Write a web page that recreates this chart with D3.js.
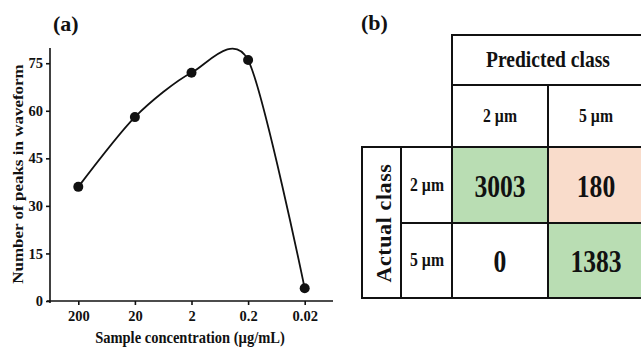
<!DOCTYPE html>
<html>
<head>
<meta charset="utf-8">
<script src="https://cdn.jsdelivr.net/npm/d3@7"></script>
<style>
  body { margin: 0; background: #fff; }
  svg text { font-family: "Times New Roman", "Liberation Serif", "DejaVu Serif", serif; font-weight: bold; fill: #111; }
</style>
</head>
<body>
<svg id="chart" width="641" height="347"></svg>
<script>
// (a) peaks vs concentration
const concLabels = ['200', '20', '2', '0.2', '0.02'];
const peakCounts = [36, 58, 72, 76, 4];
const yTicks = [0, 15, 30, 45, 60, 75];

// (b) confusion matrix
const classLabels = ['2 \u00b5m', '5 \u00b5m'];
const confusion = [
    [3003, 180],
    [0, 1383]
];
const cellColors = [
    ['#b9ddb3', '#f9dccb'],
    ['#ffffff', '#b9ddb3']
];

const serif = '"Times New Roman", "Liberation Serif", "DejaVu Serif", serif';

let svg = d3.select('#chart');

// ---- panel (a) ----
let x = d3.scalePoint().domain(concLabels).range([50, 333]).padding(0.5);
let y = d3.scaleLinear().domain([0, 79.8]).range([301, 48]);

let gA = svg.append('g');

gA.append('g')
    .attr('transform', 'translate(0,301)')
    .call(d3.axisBottom(x).tickSize(4).tickPadding(6))
    .call(g => g.select('.domain').attr('d', 'M47,0H333'));

gA.append('g')
    .attr('transform', 'translate(50,0)')
    .call(d3.axisLeft(y).tickValues(yTicks).tickSize(4).tickPadding(3))
    .call(g => g.select('.domain').attr('d', 'M0,48V303'));

gA.selectAll('.domain, .tick line').attr('stroke', '#111').attr('stroke-width', 1.6);
gA.selectAll('.tick text')
    .attr('font-size', 14.5)
    .attr('font-family', serif)
    .attr('font-weight', 'bold')
    .attr('fill', '#111');

let pts = concLabels.map((c, i) => [x(c), y(peakCounts[i])]);

gA.append('path')
    .attr('d', d3.line().curve(d3.curveCardinal.tension(0.2))(pts))
    .attr('fill', 'none')
    .attr('stroke', '#111')
    .attr('stroke-width', 1.8);

gA.selectAll('circle')
    .data(pts)
    .enter().append('circle')
    .attr('cx', d => d[0])
    .attr('cy', d => d[1])
    .attr('r', 5)
    .attr('fill', '#111');

gA.append('text').attr('x', 53).attr('y', 31).attr('font-size', 22).text('(a)');

gA.append('text')
    .attr('transform', 'translate(23,174) rotate(-90) scale(1,0.88)')
    .attr('text-anchor', 'middle')
    .attr('font-size', 17)
    .text('Number of peaks in waveform');

gA.append('text')
    .attr('transform', 'translate(190,343) scale(0.88,1)')
    .attr('text-anchor', 'middle')
    .attr('font-size', 16.5)
    .text('Sample concentration (\u00b5g/mL)');

// ---- panel (b) ----
let gB = svg.append('g');
gB.append('text').attr('x', 361).attr('y', 30).attr('font-size', 22).text('(b)');

let colX = [452, 548, 644];
let rowY = [147, 223, 298];

// cell fills and counts
confusion.forEach((row, i) => {
    row.forEach((v, j) => {
        gB.append('rect')
            .attr('x', colX[j]).attr('y', rowY[i])
            .attr('width', colX[j + 1] - colX[j])
            .attr('height', rowY[i + 1] - rowY[i])
            .attr('fill', cellColors[i][j]);
        gB.append('text')
            .attr('transform', `translate(${(colX[j] + colX[j + 1]) / 2},${(rowY[i] + rowY[i + 1]) / 2 + 11.5}) scale(0.8,1)`)
            .attr('text-anchor', 'middle')
            .attr('font-size', 32)
            .text(v);
    });
});

// grid lines
let lines = [
    [452, 35, 644, 35], [452, 85, 644, 85], [362, 147, 644, 147],
    [401, 223, 644, 223], [362, 298, 644, 298],
    [452, 35, 452, 298], [548, 85, 548, 298], [362, 147, 362, 298], [401, 147, 401, 298]
];
gB.selectAll('line.grid')
    .data(lines)
    .enter().append('line')
    .attr('class', 'grid')
    .attr('x1', d => d[0]).attr('y1', d => d[1])
    .attr('x2', d => d[2]).attr('y2', d => d[3])
    .attr('stroke', '#111')
    .attr('stroke-width', 2)
    .attr('stroke-linecap', 'square');

gB.append('text')
    .attr('transform', 'translate(548,67) scale(0.85,1)')
    .attr('text-anchor', 'middle')
    .attr('font-size', 23)
    .text('Predicted class');

classLabels.forEach((c, j) => {
    gB.append('text')
        .attr('transform', `translate(${(colX[j] + colX[j + 1]) / 2},122) scale(0.85,1)`)
        .attr('text-anchor', 'middle')
        .attr('font-size', 18.5)
        .text(c);
    gB.append('text')
        .attr('transform', `translate(427,${(rowY[j] + rowY[j + 1]) / 2 + 5.5}) scale(0.85,1)`)
        .attr('text-anchor', 'middle')
        .attr('font-size', 18.5)
        .text(c);
});

gB.append('text')
    .attr('transform', 'translate(391,223) rotate(-90)')
    .attr('text-anchor', 'middle')
    .attr('font-size', 22)
    .attr('letter-spacing', 0.6)
    .text('Actual class');
</script>
</body>
</html>
